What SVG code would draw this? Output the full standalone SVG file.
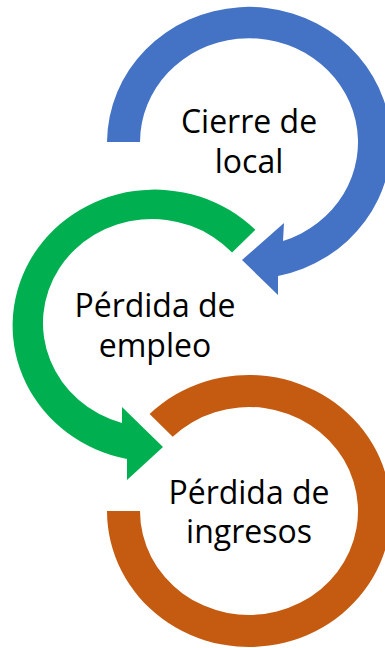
<svg xmlns="http://www.w3.org/2000/svg" width="385" height="648" viewBox="0 0 385 648">
  <style>
    .lbl { font-family: "Open Sans", "Noto Sans", "Liberation Sans", sans-serif; font-size: 32px; fill: #000000; text-anchor: middle; }
    .blue { fill: #4472C4; }
    .green { fill: #00B050; }
    .orange { fill: #C55A11; }
  </style>
  <rect width="385" height="648" fill="#FFFFFF"/>
  <g id="connectors">
    <path id="arrow-blue" class="blue" d="M 107 142 A 142 136 0 1 1 278 276 L 278 295 L 242 260 L 284 223 L 283 241 A 109 104 0 1 0 140 142 Z"/>
    <path id="arrow-green" class="green" d="M 255.4 229.8 A 142 136 0 1 0 127 459 L 127 480 L 163 447 L 122 407 L 122 423 A 109 104 0 1 1 232.1 252.5 Z"/>
    <path id="ring-orange" class="orange" d="M 149.6 413.9 A 142 136 0 1 1 107 511 L 140 511 A 109 104 0 1 0 172.7 436.7 Z"/>
  </g>
  <g id="node-cierre">
    <text class="lbl" x="249" y="133">Cierre de</text>
    <text class="lbl" x="249" y="173">local</text>
  </g>
  <g id="node-empleo">
    <text class="lbl" x="155" y="317">Pérdida de</text>
    <text class="lbl" x="155" y="357">empleo</text>
  </g>
  <g id="node-ingresos">
    <text class="lbl" x="249" y="504">Pérdida de</text>
    <text class="lbl" x="249" y="543">ingresos</text>
  </g>
</svg>
